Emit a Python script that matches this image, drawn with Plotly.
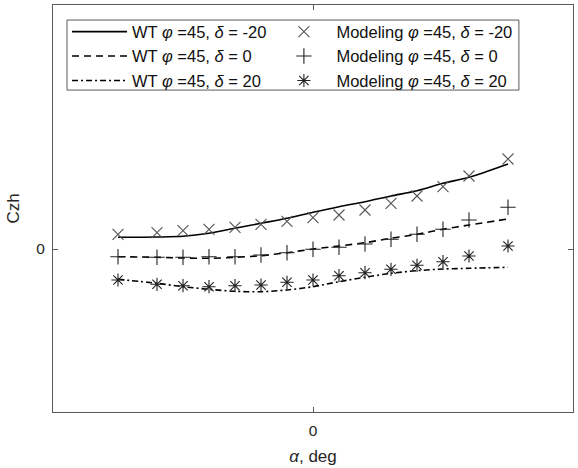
import plotly.graph_objects as go

# Angle of attack, deg
alpha = [-15, -12, -10, -8, -6, -4, -2, 0, 2, 4, 6, 8, 10, 12, 15]

# Wind tunnel curves (phi = 45)
wt_dm20 = [0.0117, 0.0120, 0.0127, 0.0157, 0.0207, 0.0257, 0.0307, 0.0367, 0.0423, 0.0473, 0.0530, 0.0583, 0.0657, 0.0717, 0.0850]
wt_d0 = [-0.0077, -0.0083, -0.0090, -0.0093, -0.0083, -0.0067, -0.0037, 0.0000, 0.0030, 0.0063, 0.0107, 0.0147, 0.0197, 0.0240, 0.0300]
wt_dp20 = [-0.0303, -0.0343, -0.0377, -0.0403, -0.0423, -0.0427, -0.0410, -0.0377, -0.0327, -0.0283, -0.0243, -0.0217, -0.0200, -0.0193, -0.0183]

# Modeling points (phi = 45)
mod_dm20 = [0.0147, 0.0163, 0.0183, 0.0197, 0.0217, 0.0247, 0.0277, 0.0313, 0.0340, 0.0390, 0.0457, 0.0530, 0.0623, 0.0730, 0.0900]
mod_d0 = [-0.0077, -0.0083, -0.0083, -0.0077, -0.0077, -0.0060, -0.0037, -0.0003, 0.0017, 0.0050, 0.0097, 0.0147, 0.0197, 0.0290, 0.0417]
mod_dp20 = [-0.0310, -0.0353, -0.0367, -0.0377, -0.0367, -0.0360, -0.0333, -0.0310, -0.0267, -0.0237, -0.0203, -0.0163, -0.0127, -0.0070, 0.0030]

wt_names = ["WT <i>φ</i> =45, <i>δ</i> = -20", "WT <i>φ</i> =45, <i>δ</i> = 0", "WT <i>φ</i> =45, <i>δ</i> = 20"]
mod_names = ["Modeling <i>φ</i> =45, <i>δ</i> = -20", "Modeling <i>φ</i> =45, <i>δ</i> = 0", "Modeling <i>φ</i> =45, <i>δ</i> = 20"]

FONT = "Liberation Sans, Arial, sans-serif"
AX = "#5a5a5a"
LEG_FONT = dict(family=FONT, size=16.5, color="#111111")

fig = go.Figure()

line_dash = ["solid", "7px,5px", "6px,3px,2px,3px"]
symbols = ["x-thin-open", "cross-thin-open", "asterisk-open"]
marker_color = ["#555555", "#222222", "#222222"]

wt_series = [wt_dm20, wt_d0, wt_dp20]
mod_series = [mod_dm20, mod_d0, mod_dp20]

# WT curves go into the left legend column, modeling points into the right one
for i in range(3):
    fig.add_trace(go.Scatter(
        x=alpha, y=wt_series[i], mode="lines", name=wt_names[i], legend="legend",
        line=dict(color="black", width=1.6, dash=line_dash[i], shape="spline", smoothing=0.8),
    ))
for i in range(3):
    fig.add_trace(go.Scatter(
        x=alpha, y=mod_series[i], mode="markers", name=mod_names[i], legend="legend2",
        marker=dict(symbol=symbols[i], size=11, color=marker_color[i],
                    line=dict(color=marker_color[i], width=1.1)),
    ))

# Shared frame around both legend columns
fig.add_shape(type="rect", xref="paper", yref="paper",
              x0=0.0269, x1=0.896, y0=0.791, y1=0.963,
              line=dict(color=AX, width=1), fillcolor="white", layer="above")

legend_common = dict(
    orientation="v", yanchor="top", xanchor="left", y=0.977,
    bgcolor="rgba(0,0,0,0)", borderwidth=0,
    itemwidth=55, font=LEG_FONT, traceorder="normal",
)

fig.update_layout(
    width=578, height=468,
    margin=dict(l=53, r=5, t=5, b=56),
    paper_bgcolor="white", plot_bgcolor="white",
    font=dict(family=FONT, size=15.5, color="#262626"),
    showlegend=True,
    legend=dict(x=0.027, **legend_common),
    legend2=dict(x=0.420, **legend_common),
    xaxis=dict(
        range=[-20, 20], tickvals=[0], ticktext=["0"],
        showline=True, linecolor=AX, linewidth=1, mirror="ticks",
        ticks="inside", ticklen=5, tickcolor=AX, showgrid=False, zeroline=False,
        title=dict(text="<i>α</i>, deg", font=dict(size=17), standoff=12),
        tickfont=dict(size=15.5), ticklabelstandoff=4,
    ),
    yaxis=dict(
        range=[-0.163, 0.244], tickvals=[0], ticktext=["0"],
        showline=True, linecolor=AX, linewidth=1, mirror="ticks",
        ticks="inside", ticklen=5, tickcolor=AX, showgrid=False, zeroline=False,
        title=dict(text="Czh", font=dict(size=17), standoff=12),
        tickfont=dict(size=15.5), ticklabelstandoff=4,
    ),
)

fig.write_html("out.html")
